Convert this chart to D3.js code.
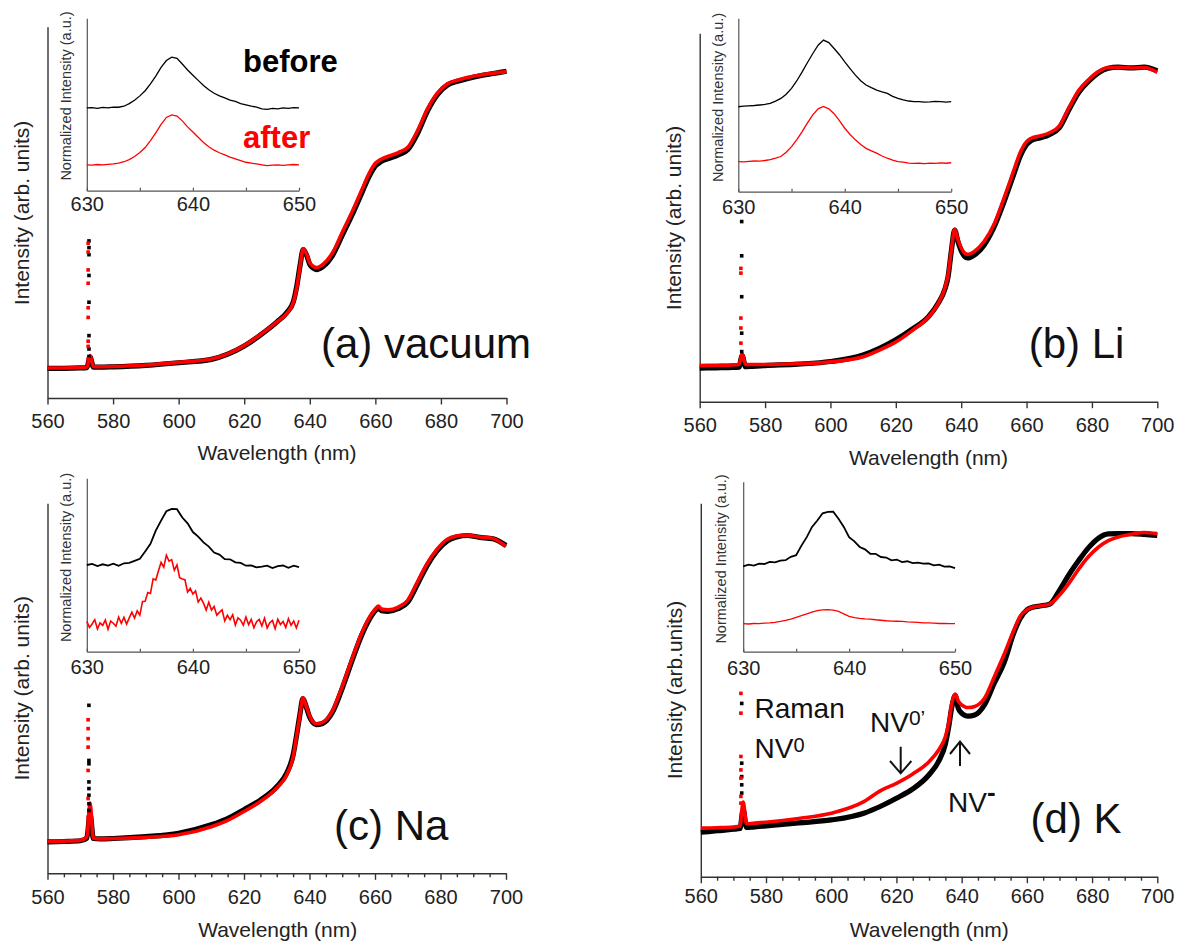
<!DOCTYPE html>
<html lang="en">
<head>
<meta charset="UTF-8">
<title>PL spectra before / after</title>
<script src="https://d3js.org/d3.v7.min.js"></script>
<style>
  body { margin: 0; background: #fff; }
  svg { display: block; font-family: Arial, "Liberation Sans", sans-serif; }
  .axis path, .axis line { stroke: #333; stroke-width: 1.4; }
  .axis text { fill: #222; font-size: 20px; font-family: Arial, "Liberation Sans", sans-serif; }
  .inset path.domain, .inset line { stroke: #555; stroke-width: 1.2; }
</style>
</head>
<body>
<svg width="1183" height="947"></svg>
<script>
// ---- data ----
const mainWl = [560, 565, 570, 572, 573, 574, 576, 580, 590, 600, 610, 615, 620, 625, 630, 633, 635, 636, 637, 638,
                639, 640, 641, 642, 644, 647, 650, 653, 656, 658, 660, 661, 662, 664, 667, 670, 673, 676, 679, 682,
                685, 688, 692, 696, 700];

const aBlack = [8.0, 8.0, 8.1, 8.2, 11, 8.3, 8.3, 8.4, 8.8, 9.5, 10.4, 11.8, 14, 17, 20.5, 23, 26, 30, 35.5, 40,
                38.5, 36, 35, 34.6, 35.4, 38.5, 44, 49.5, 55.5, 59.5, 62.5, 63.2, 63.8, 64.5, 65.5, 67, 71.5, 77.5, 81.8, 84.3,
                85.3, 86, 86.8, 87.4, 88];
const aRed   = [8.1, 8.1, 8.2, 8.3, 11.4, 8.4, 8.4, 8.5, 8.9, 9.6, 10.5, 11.9, 14.1, 17.1, 20.5, 22.8, 25.8, 29.6, 35.2, 40.2,
                38.8, 36.4, 35.5, 35.1, 36, 39.2, 44.8, 50.3, 56.3, 60.3, 63.2, 63.9, 64.4, 65.1, 66.1, 67.6, 72.2, 78, 82.2, 84.6,
                85.6, 86.3, 87, 87.5, 87.9];
const bBlack = [9.1, 9.2, 9.3, 9.4, 12.5, 9.5, 9.6, 9.8, 10.2, 10.9, 12.7, 14.5, 16.8, 19.7, 23.1, 26.8, 30.5, 34, 41, 46.6,
                43.5, 41, 39.5, 39, 39.8, 42.5, 47.3, 54, 61.5, 66.5, 69.8, 70.6, 71.1, 71.6, 72.5, 74.3, 79.3, 84, 87, 89.3,
                90.5, 90.8, 90.6, 90.8, 89.8];
const bRed   = [9.8, 9.9, 10.0, 10.1, 13, 10.1, 10.1, 10.1, 10.3, 10.8, 12.2, 14.0, 16.2, 19.3, 23.0, 26.7, 30.8, 34.5, 41.3, 46.8,
                44.0, 41.8, 40.4, 40, 40.8, 43.5, 48, 55, 62.5, 67.5, 70.6, 71.3, 71.7, 72.1, 73.0, 74.8, 79.8, 84.5, 87.4, 89.6,
                90.7, 90.8, 90.6, 90.7, 89.4];
const cBlack = [8.5, 8.6, 8.8, 9.5, 16, 9.4, 9.3, 9.4, 9.9, 10.8, 13.1, 14.8, 17.2, 19.8, 23.4, 27, 32, 37, 42.5, 47.2,
                45, 42.3, 40.8, 40.2, 40.5, 43.5, 50, 57.5, 64.5, 68.2, 70.9, 71.6, 71.0, 70.8, 71.5, 73.3, 78.2, 83.3, 87.2, 89.8,
                90.9, 91.3, 90.8, 90.4, 88.6];
const cRed   = [8.6, 8.7, 8.9, 9.8, 19, 9.5, 9.3, 9.4, 9.7, 10.4, 12.6, 14.3, 16.7, 19.4, 23.1, 26.5, 31.5, 36.8, 42.3, 47.4,
                45.2, 42.6, 41.0, 40.4, 40.8, 43.9, 50.5, 58, 65, 68.7, 71.3, 72.2, 71.4, 71.2, 71.9, 73.8, 78.8, 83.8, 87.6, 90.2,
                91.2, 91.4, 90.9, 90.5, 88.3];
const dBlack = [11.9, 12.3, 12.7, 12.9, 18, 13.2, 13.3, 13.6, 14.4, 15.2, 17, 18.8, 21, 23.5, 27.3, 31, 35.5, 40, 45.5, 48.5,
                45, 43.8, 43.2, 43, 43.3, 46, 51.8, 57.3, 65.3, 69.2, 71.4, 71.9, 72.2, 72.5, 73, 76.7, 81, 84.8, 88.2, 90.7,
                91.8, 91.9, 91.9, 91.7, 91.4];
const dRed   = [13, 13.1, 13.3, 13.5, 20, 14.2, 14.3, 14.6, 15.6, 17, 20.1, 23, 25, 27.5, 30.8, 34, 37.5, 41, 46.5, 48.9,
                47, 46, 45.5, 45.3, 45.6, 47.8, 53.5, 59.5, 66, 69.8, 71.4, 71.9, 72.2, 72.5, 73, 75.4, 78.7, 82.5, 85.8, 88.3,
                90, 91, 91.7, 92.2, 91.9];

// Raman line (sparse points of the narrow peak near 572.6 nm)
const ramanWl = [572.5, 572.7, 572.5, 572.4];
const aRamanBlack = [42.3, 40.5, 38.6, 33.0, 25.8, 16.8, 13.2, 11.2];
const aRamanRed   = [41.7, 39.3, 34.5, 30.9, 24.3, 21.7, 15.3, 13.9, 10.5];
const bRamanBlack = [48.9, 39.6, 28.5, 18.6, 13.6];
const bRamanRed   = [36.2, 34.9, 22.7, 20.0, 15.9];
const cRamanBlack = [45.4, 30.5, 29.6, 24.7, 22.9, 21.1, 18.8, 17.0];
const cRamanRed   = [41.5, 39.1, 36.4, 34.1, 27.8, 20.2, 15.2];
const dRamanBlack = [46.4, 30.4, 26.8, 24.6, 22.4];
const dRamanRed   = [49.1, 43.8, 32.2, 28.6, 26.4, 21.5, 19.7];

// insets: 630-650 nm, normalized intensity
const insetWl = d3.range(630, 650.001, 0.5);
const insetWlFine = d3.range(630, 650.001, 0.25);
const aInBlack = [4.8, 4.82, 4.78, 4.83, 4.8, 4.85, 4.84, 4.9, 5.05, 5.25, 5.5, 5.8, 6.2, 6.65, 7.15, 7.55, 7.75, 7.68, 7.35, 7.0,
                  6.7, 6.4, 6.1, 5.85, 5.65, 5.5, 5.38, 5.25, 5.18, 5.05, 4.98, 4.9, 4.85, 4.75, 4.72, 4.78, 4.75, 4.8, 4.78, 4.82, 4.8];
const aInRed   = [1.5, 1.48, 1.52, 1.5, 1.53, 1.55, 1.6, 1.68, 1.8, 1.98, 2.22, 2.5, 2.9, 3.35, 3.85, 4.25, 4.4, 4.33, 4.05, 3.7,
                  3.4, 3.1, 2.8, 2.55, 2.35, 2.2, 2.08, 1.95, 1.85, 1.75, 1.65, 1.6, 1.55, 1.5, 1.45, 1.48, 1.5, 1.47, 1.5, 1.52, 1.5];
const bInBlack = [4.9, 4.93, 4.95, 4.97, 5.0, 5.03, 5.1, 5.22, 5.38, 5.62, 5.96, 6.4, 6.91, 7.45, 7.97, 8.45, 8.74, 8.6, 8.26, 7.9,
                  7.49, 7.1, 6.72, 6.4, 6.15, 6.0, 5.86, 5.76, 5.67, 5.5, 5.38, 5.3, 5.23, 5.2, 5.2, 5.17, 5.18, 5.21, 5.2, 5.17, 5.19];
const bInRed   = [1.74, 1.72, 1.75, 1.77, 1.76, 1.8, 1.85, 1.93, 2.03, 2.28, 2.6, 3.0, 3.47, 3.97, 4.43, 4.78, 4.92, 4.78, 4.5, 4.1,
                  3.66, 3.3, 2.99, 2.72, 2.5, 2.35, 2.22, 2.06, 1.93, 1.82, 1.74, 1.7, 1.65, 1.63, 1.64, 1.62, 1.65, 1.63, 1.66, 1.64, 1.67];
const cInBlack = [5.0, 5.06, 4.94, 5.04, 4.97, 5.08, 4.95, 5.1, 5.12, 5.24, 5.36, 5.78, 6.22, 6.98, 7.56, 8.1, 8.24, 8.22, 7.74, 7.4,
                  6.9, 6.64, 6.3, 6.06, 5.72, 5.6, 5.34, 5.33, 5.15, 5.12, 4.96, 4.98, 4.86, 4.9, 4.96, 4.82, 4.94, 4.97, 4.84, 4.96, 4.88];
const cInRed   = [1.75, 1.40, 1.60, 1.85, 1.31, 1.66, 1.52, 1.83, 1.30, 1.77, 1.64, 1.47, 2.00, 1.64, 1.98, 1.59, 1.95, 2.28, 1.94, 2.36,
                  2.11, 2.90, 2.91, 3.41, 3.36, 4.20, 4.13, 4.65, 5.15, 4.87, 5.56, 5.22, 5.31, 4.70, 5.00, 4.27, 4.19, 4.15, 3.44, 3.65,
                  3.32, 3.50, 2.86, 3.09, 2.80, 2.40, 2.85, 2.40, 2.61, 2.11, 2.27, 2.42, 1.78, 2.10, 1.85, 2.13, 1.54, 1.95, 1.82, 1.53,
                  2.00, 1.56, 1.87, 1.38, 1.73, 1.86, 1.48, 1.93, 1.37, 1.67, 1.80, 1.32, 1.87, 1.57, 1.74, 1.40, 1.90, 1.52, 1.77, 1.37, 1.82];
const dInBlack = [5.02, 5.12, 5.06, 5.18, 5.16, 5.28, 5.26, 5.36, 5.38, 5.58, 5.68, 6.24, 6.74, 7.34, 7.72, 8.14, 8.22, 8.24, 7.82, 7.34,
                  6.74, 6.49, 6.16, 6.02, 5.76, 5.76, 5.57, 5.54, 5.37, 5.42, 5.27, 5.32, 5.21, 5.24, 5.18, 5.19, 5.08, 5.12, 5.01, 5.02, 4.92];
const dInRed   = [1.65, 1.63, 1.66, 1.65, 1.68, 1.7, 1.73, 1.78, 1.84, 1.92, 2.02, 2.12, 2.23, 2.33, 2.42, 2.46, 2.47, 2.45, 2.37, 2.23,
                  2.08, 2.0, 1.96, 1.93, 1.92, 1.88, 1.85, 1.82, 1.8, 1.79, 1.78, 1.75, 1.74, 1.72, 1.7, 1.69, 1.68, 1.66, 1.67, 1.65, 1.65];

const mainTicks = [560, 580, 600, 620, 640, 660, 680, 700];
const minorTicks = [565, 570, 575, 585, 590, 595, 605, 610, 615, 625, 630, 635, 645, 650, 655, 665, 670, 675, 685, 690, 695];
const insetTicks = [630, 635, 640, 645, 650];
const insetLabels = [630, 640, 650];

// ---- layout per panel ----
const panels = [
  { black: aBlack, red: aRed, rb: aRamanBlack, rr: aRamanRed, rw: ramanWl[0], ib: aInBlack, ir: aInRed, irWl: insetWl,
    x0: 47.5, x1: 506.5, y0: 26.7, y1: 398, pad: 9, minor: false,
    ix0: 86.8, ix1: 299, iy0: 18.3, iy1: 190.7, ipad: 6,
    yTitle: "Intensity (arb. units)", yt: [21.4, 213], xt: [277, 453], iyt: [66, 96],
    label: "(a) vacuum", lp: [321, 358], inW: [1.3, 1.3] },
  { black: bBlack, red: bRed, rb: bRamanBlack, rr: bRamanRed, rw: ramanWl[1], ib: bInBlack, ir: bInRed, irWl: insetWl,
    x0: 699.7, x1: 1157.3, y0: 33.3, y1: 401.7, pad: 9.3, minor: false,
    ix0: 738.3, ix1: 951.2, iy0: 18.3, iy1: 191.7, ipad: 8,
    yTitle: "Intensity (arb. units)", yt: [673.2, 218], xt: [928.5, 458], iyt: [717.8, 97.5],
    label: "(b) Li", lp: [1028.7, 358], inW: [1.3, 1.3] },
  { black: cBlack, red: cRed, rb: cRamanBlack, rr: cRamanRed, rw: ramanWl[2], ib: cInBlack, ir: cInRed, irWl: insetWlFine,
    x0: 47.5, x1: 506, y0: 503.3, y1: 873.3, pad: 9.7, minor: true,
    ix0: 86.8, ix1: 299, iy0: 478.3, iy1: 651.7, ipad: 8,
    yTitle: "Intensity (arb. units)", yt: [21.4, 688.3], xt: [277.7, 930], iyt: [66, 557.5],
    label: "(c) Na", lp: [334, 840], inW: [1.8, 1.6] },
  { black: dBlack, red: dRed, rb: dRamanBlack, rr: dRamanRed, rw: ramanWl[3], ib: dInBlack, ir: dInRed, irWl: insetWl,
    x0: 700.8, x1: 1157.3, y0: 503.3, y1: 876.7, pad: 5.3, minor: true,
    ix0: 743.2, ix1: 955, iy0: 481.7, iy1: 651.7, ipad: 9.6,
    yTitle: "Intensity (arb.units)", yt: [675.1, 690], xt: [929.3, 930], iyt: [720.5, 559],
    label: "(d) K", lp: [1030.6, 833.3], inW: [1.8, 1.3] }
];

const svg = d3.select("svg");

panels.forEach(p => {
  const g = svg.append("g");
  const x = d3.scaleLinear().domain([560, 700]).range([p.x0, p.x1]);
  const y = d3.scaleLinear().domain([0, 100]).range([p.y1, p.y0]);

  // axes
  g.append("g").attr("class", "axis").attr("transform", `translate(0,${p.y1})`)
    .call(d3.axisBottom(x).tickValues(mainTicks).tickSizeInner(6.5).tickSizeOuter(0)
      .tickPadding(p.pad).tickFormat(d3.format("d")));
  if (p.minor) {
    const m = g.append("g").attr("class", "axis").attr("transform", `translate(0,${p.y1})`)
      .call(d3.axisBottom(x).tickValues(minorTicks).tickSize(4).tickFormat(""));
    m.select(".domain").remove();
  }
  g.append("g").attr("class", "axis").attr("transform", `translate(${p.x0},0)`)
    .call(d3.axisLeft(y).tickValues([]).tickSizeOuter(0));

  // spectra
  const line = d3.line().x((d, i) => x(mainWl[i])).y(d => y(d)).curve(d3.curveMonotoneX);
  g.append("path").datum(p.black).attr("d", line)
    .attr("fill", "none").attr("stroke", "#000").attr("stroke-width", 5.2).attr("stroke-linejoin", "round");
  g.append("path").datum(p.red).attr("d", line)
    .attr("fill", "none").attr("stroke", "#ff0000").attr("stroke-width", 3.6).attr("stroke-linejoin", "round");

  // Raman points
  const sq = 3.6;
  g.selectAll(".rb").data(p.rb).join("rect")
    .attr("x", x(p.rw + 0.15) - sq / 2).attr("y", d => y(d) - sq / 2)
    .attr("width", sq).attr("height", sq).attr("fill", "#000");
  g.selectAll(".rr").data(p.rr).join("rect")
    .attr("x", x(p.rw - 0.1) - sq / 2).attr("y", d => y(d) - sq / 2)
    .attr("width", sq).attr("height", sq).attr("fill", "#ff0000");

  // inset
  const xi = d3.scaleLinear().domain([630, 650]).range([p.ix0, p.ix1]);
  const yi = d3.scaleLinear().domain([0, 10]).range([p.iy1, p.iy0]);
  g.append("g").attr("class", "axis inset").attr("transform", `translate(0,${p.iy1})`)
    .call(d3.axisBottom(xi).tickValues(insetTicks).tickSizeInner(-3).tickSizeOuter(0)
      .tickPadding(p.ipad).tickFormat(d => insetLabels.includes(d) ? d : ""));
  g.append("g").attr("class", "axis inset").attr("transform", `translate(${p.ix0},0)`)
    .call(d3.axisLeft(yi).tickValues([]).tickSizeOuter(0));

  g.append("path").datum(p.ib)
    .attr("d", d3.line().x((d, i) => xi(insetWl[i])).y(d => yi(d)))
    .attr("fill", "none").attr("stroke", "#000").attr("stroke-width", p.inW[0]);
  g.append("path").datum(p.ir)
    .attr("d", d3.line().x((d, i) => xi(p.irWl[i])).y(d => yi(d)))
    .attr("fill", "none").attr("stroke", "#ff0000").attr("stroke-width", p.inW[1]);

  // titles
  g.append("text").attr("transform", `translate(${p.yt[0]},${p.yt[1]}) rotate(-90)`)
    .attr("text-anchor", "middle").attr("dy", "0.35em")
    .attr("font-size", 21).attr("fill", "#222").text(p.yTitle);
  g.append("text").attr("x", p.xt[0]).attr("y", p.xt[1]).attr("dy", "0.35em")
    .attr("text-anchor", "middle").attr("font-size", 21).attr("fill", "#222").text("Wavelength (nm)");
  g.append("text").attr("transform", `translate(${p.iyt[0]},${p.iyt[1]}) rotate(-90)`)
    .attr("text-anchor", "middle").attr("dy", "0.35em")
    .attr("font-size", 14.5).attr("fill", "#333").text("Normalized Intensity (a.u.)");
  g.append("text").attr("x", p.lp[0]).attr("y", p.lp[1])
    .attr("font-size", 42).attr("fill", "#111").text(p.label);
});

// legend words in panel (a)
svg.append("text").attr("x", 243).attr("y", 71.7).attr("font-size", 31).attr("font-weight", "bold")
  .attr("fill", "#000").text("before");
svg.append("text").attr("x", 243).attr("y", 148.3).attr("font-size", 31).attr("font-weight", "bold")
  .attr("fill", "#ff0000").text("after");

// annotations in panel (d)
const ann = svg.append("g").attr("fill", "#111").attr("font-size", 28);
ann.append("text").attr("x", 754.5).attr("y", 718.3).text("Raman");
const nv0 = ann.append("text").attr("x", 754.5).attr("y", 758.3);
nv0.append("tspan").text("NV");
nv0.append("tspan").attr("dy", -6).attr("font-size", 20).text("0");
const nv0p = ann.append("text").attr("x", 870).attr("y", 731.7);
nv0p.append("tspan").text("NV");
nv0p.append("tspan").attr("dy", -7).attr("font-size", 21).text("0\u2019");
const nvm = ann.append("text").attr("x", 948).attr("y", 811.7);
nvm.append("tspan").text("NV");
nvm.append("tspan").attr("dy", -11).attr("font-size", 26).attr("font-weight", "bold").text("-");

const arrows = svg.append("g").attr("stroke", "#111").attr("stroke-width", 2).attr("fill", "none");
arrows.append("path").attr("d", "M900.7,746.7 V773.3 M890,761 L900.7,773.3 L911.4,761");
arrows.append("path").attr("d", "M960,766 V741.7 M950,754 L960,741.7 L970,754");
</script>
</body>
</html>
